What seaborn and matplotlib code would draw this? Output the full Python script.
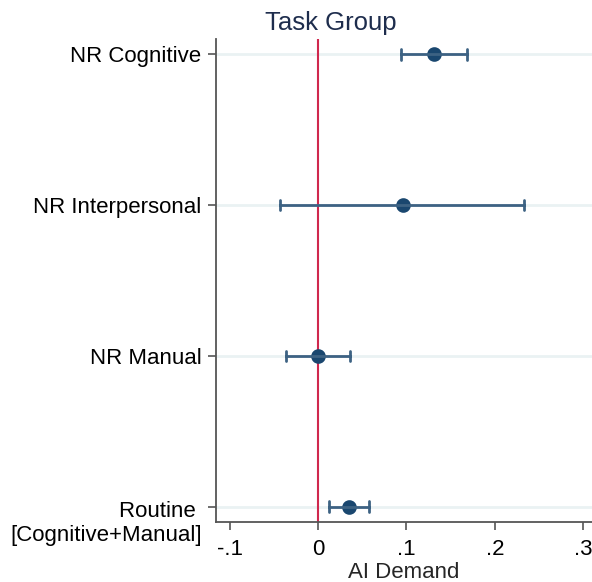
import numpy as np
import pandas as pd
import matplotlib
matplotlib.use("Agg")
import matplotlib.pyplot as plt
import seaborn as sns

categories = ["NR Cognitive", "NR Interpersonal", "NR Manual", "Routine\n[Cognitive+Manual]"]
estimates = [0.131, 0.096, 0.000, 0.035]
ci_low = [0.094, -0.043, -0.036, 0.012]
ci_high = [0.169, 0.233, 0.036, 0.058]
xticks = [-0.1, 0.0, 0.1, 0.2, 0.3]
xtick_labels = ["-.1", "0", ".1", ".2", ".3"]

rows = []
for c, e, lo, hi in zip(categories, estimates, ci_low, ci_high):
    for v in (lo, e, hi):
        rows.append({"group": c, "value": v})
df = pd.DataFrame(rows)

sns.set_theme(style="white")
plt.rcParams["font.family"] = ["Liberation Sans", "DejaVu Sans"]

FS = 16

fig = plt.figure(figsize=(5.92, 5.82), dpi=100)
ax = fig.add_axes([215.5 / 592, 1 - 522 / 582, 1 - 215.5 / 592, (522 - 39) / 582])

# gridlines
for i in range(len(categories)):
    ax.axhline(i, color="#eaf2f3", lw=2, zorder=0)

ax.axvline(0, color="#d0284e", lw=1.5, zorder=1)

sns.pointplot(
    data=df, x="value", y="group", order=categories,
    estimator=np.median, errorbar=lambda v: (v.min(), v.max()),
    linestyle="none", color="#1a476f", markersize=8.5,
    capsize=0.072, err_kws={"color": "#3d6283", "linewidth": 2.0},
    ax=ax, zorder=3,
)

ax.set_xlim(-0.116, 0.31)
ax.set_ylim(3.1, -0.1)
ax.set_xticks(xticks)
ax.set_xticklabels(xtick_labels)
ax.set_yticks(range(len(categories)))
ax.set_yticklabels([c if "\n" not in c else "" for c in categories])
ax.set_xlabel("AI Demand", fontsize=FS, labelpad=2)
ax.set_ylabel("")
ax.tick_params(axis="both", labelsize=FS, colors="#555555", labelcolor="black",
               direction="out", length=6, width=1.2, left=True, bottom=True)
ax.tick_params(axis="x", pad=6)
ax.tick_params(axis="y", pad=4)

# multi-line label: first line centred on the tick, second line below
for i, c in enumerate(categories):
    if "\n" in c:
        first, second = c.split("\n", 1)
        ax.annotate(first + " \n" + second, xy=(0, i), xycoords=ax.get_yaxis_transform(),
                    xytext=(-14, 6), textcoords="offset pixels",
                    ha="right", va="top", multialignment="right",
                    fontsize=FS, linespacing=1.22, color="black", annotation_clip=False)

for s in ["top", "right"]:
    ax.spines[s].set_visible(False)
for s in ["left", "bottom"]:
    ax.spines[s].set_color("#555555")
    ax.spines[s].set_linewidth(1.3)

fig.text(331 / 592, 1 - 23 / 582, "Task Group", ha="center", va="center",
         fontsize=18.5, color="#1e2d4d")

fig.savefig("out.png", dpi=100)
